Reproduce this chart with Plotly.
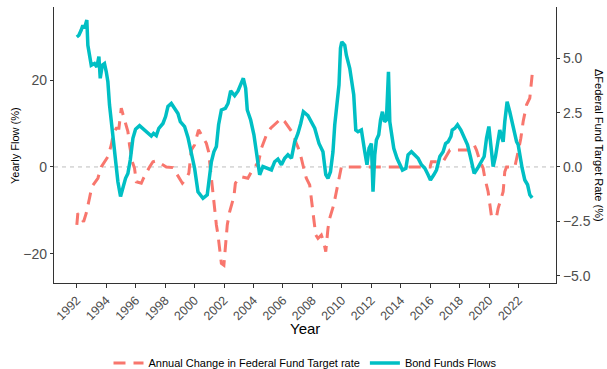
import plotly.graph_objects as go

# ---- data ----
bond_year = [1992.0, 1992.14, 1992.30, 1992.41, 1992.52, 1992.68, 1992.75, 1992.91, 1992.98, 1993.20,
             1993.36, 1993.50, 1993.59, 1993.73, 1993.88, 1994.00, 1994.11, 1994.22, 1994.41, 1994.56,
             1994.79, 1994.97, 1995.13, 1995.31, 1995.47, 1995.63, 1995.81, 1995.99, 1996.26, 1996.60,
             1996.89, 1997.06, 1997.21, 1997.40, 1997.57, 1997.85, 1998.03, 1998.19, 1998.42, 1998.64,
             1998.87, 1999.03, 1999.32, 1999.55, 1999.78, 2000.00, 2000.23, 2000.57, 2000.86, 2001.02,
             2001.14, 2001.31, 2001.48, 2001.63, 2001.82, 2002.09, 2002.27, 2002.45, 2002.72, 2002.95,
             2003.13, 2003.31, 2003.47, 2003.58, 2003.81, 2004.03, 2004.26, 2004.42, 2004.64, 2004.94,
             2005.22, 2005.44, 2005.66, 2005.90, 2006.12, 2006.34, 2006.58, 2006.80, 2007.02, 2007.21,
             2007.39, 2007.70, 2007.93, 2008.16, 2008.45, 2008.72, 2008.91, 2009.06, 2009.23, 2009.40,
             2009.52, 2009.68, 2009.81, 2009.91, 2010.00, 2010.20, 2010.31, 2010.54, 2010.65, 2010.81,
             2010.95, 2011.10, 2011.33, 2011.44, 2011.56, 2011.71, 2011.85, 2012.01, 2012.12, 2012.24,
             2012.35, 2012.51, 2012.63, 2012.76, 2012.90, 2013.03, 2013.17, 2013.26, 2013.37, 2013.53,
             2013.75, 2013.94, 2014.12, 2014.35, 2014.50, 2014.73, 2014.96, 2015.18, 2015.41, 2015.64,
             2015.86, 2016.02, 2016.25, 2016.43, 2016.66, 2016.88, 2017.05, 2017.22, 2017.41, 2017.50,
             2017.68, 2017.86, 2018.09, 2018.31, 2018.54, 2018.76, 2018.99, 2019.22, 2019.44, 2019.67,
             2019.83, 2019.99, 2020.12, 2020.28, 2020.44, 2020.62, 2020.73, 2020.85, 2020.96, 2021.07,
             2021.23, 2021.41, 2021.57, 2021.71, 2021.87, 2021.98, 2022.09, 2022.25, 2022.43, 2022.62,
             2022.77, 2022.93]
bond_flow = [29.9, 30.3, 31.5, 32.6, 31.9, 33.8, 28.0, 24.6, 23.4, 23.8,
             23.0, 25.4, 20.4, 23.4, 23.8, 21.9, 19.6, 14.3, 8.1, 2.8,
             -3.4, -6.8, -4.5, -2.6, -1.5, 1.6, 6.6, 8.7, 9.5, 8.5,
             7.7, 7.1, 7.7, 7.2, 8.9, 10.0, 11.6, 13.9, 14.6, 13.5,
             12.3, 10.4, 9.3, 6.8, 3.5, -0.3, -5.7, -7.2, -6.4, -1.1,
             1.2, 3.5, 4.7, 9.7, 13.1, 13.5, 14.6, 17.5, 16.4, 17.5,
             19.2, 20.4, 18.1, 13.1, 10.8, 7.4, 2.0, -1.8, 0.1, -0.3,
             -0.7, 1.2, 1.8, 0.5, 2.0, 2.8, 2.0, 5.8, 7.7, 10.0,
             12.7, 11.8, 10.4, 8.9, 5.4, 3.5, -1.8, -2.6, -1.1, 3.5,
             9.7, 15.0, 18.9, 27.3, 28.8, 28.0, 25.7, 22.7, 19.6, 16.6,
             8.5, 8.1, 8.5, 6.6, 3.5, 0.5, 4.3, 5.4, -5.7, 2.8,
             6.2, 7.4, 10.8, 12.7, 10.4, 10.8, 21.9, 10.4, 7.4, 4.3,
             2.0, 0.5, -0.7, -0.3, 2.8, 3.5, 2.8, 2.0, 0.5, -0.3,
             -1.8, -3.0, -1.8, -0.7, 2.4, 3.5, 5.4, 5.8, 7.0, 8.5,
             8.9, 9.7, 8.5, 7.0, 5.1, 2.0, -1.5, -0.3, 1.2, 2.4,
             6.6, 9.3, 5.1, 0.1, 2.4, 5.8, 8.5, 7.0, 5.8, 10.4,
             15.0, 12.7, 10.4, 8.1, 5.8, 5.1, 2.4, -0.3, -3.0, -4.1,
             -6.4, -7.1]

fed_year = [1992.0, 1992.07, 1992.46, 1992.64, 1992.86, 1993.02, 1993.43, 1993.66, 1994.11, 1994.34,
            1994.49, 1994.68, 1994.86, 1995.02, 1995.24, 1995.47, 1995.58, 1995.77, 1995.92, 1996.04,
            1996.38, 1996.53, 1996.94, 1997.17, 1997.40, 1998.08, 1998.53, 1998.76, 1999.17, 1999.44,
            1999.61, 1999.78, 2000.00, 2000.27, 2000.57, 2000.80, 2000.95, 2001.09, 2001.18, 2001.31,
            2001.48, 2001.59, 2001.70, 2001.82, 2001.99, 2002.09, 2002.22, 2002.38, 2002.67, 2002.77,
            2002.99, 2003.18, 2003.62, 2003.86, 2004.35, 2004.54, 2004.88, 2005.17, 2005.90, 2006.12,
            2006.68, 2006.91, 2007.14, 2007.36, 2007.59, 2007.82, 2007.98, 2008.09, 2008.23, 2008.38,
            2008.61, 2008.77, 2008.91, 2009.06, 2009.18, 2009.45, 2009.63, 2009.81, 2009.97, 2016.00,
            2016.09, 2016.88, 2017.10, 2017.34, 2018.81, 2018.99, 2019.15, 2019.36, 2019.60, 2019.72,
            2019.94, 2020.05, 2020.17, 2020.51, 2020.62, 2020.96, 2021.07, 2021.19, 2021.75, 2021.98,
            2022.16, 2022.32, 2022.55, 2022.77, 2022.84, 2022.93]
fed_change = [-2.67, -2.13, -2.52, -2.13, -1.44, -0.91, -0.52, 0.0, 0.47, 1.01,
              1.55, 1.78, 1.78, 2.70, 2.17, 1.63, 1.01, 0.24, -0.06, -0.68,
              -0.75, -0.52, 0.0, 0.24, 0.28, 0.0, -0.03, -0.29, -0.75, -0.52,
              -0.29, 0.78, 1.01, 1.71, 1.32, 1.09, 0.71, -0.22, -0.83, -1.75,
              -2.67, -3.13, -3.90, -4.44, -4.52, -3.59, -2.67, -2.06, -1.37, -0.75,
              -0.52, -0.45, -0.52, -0.22, 0.24, 0.86, 1.47, 1.78, 2.24, 2.09,
              1.55, 1.09, 0.71, 0.09, -0.52, -0.83, -1.60, -2.36, -3.13, -3.29,
              -3.13, -3.44, -3.90, -2.83, -2.36, -1.75, -1.14, -0.52, 0.0, 0.0,
              0.24, 0.24, 0.50, 0.78, 0.78, 1.01, 0.78, 0.32, -0.06, -0.52,
              -1.14, -1.75, -2.29, -2.29, -1.90, -1.14, -0.22, 0.0, 0.0, 0.71,
              1.32, 2.09, 2.86, 3.17, 3.63, 4.24]

year_ticks = list(range(1992, 2023, 2))
left_ticks = [-20, 0, 20]
right_ticks = [-5.0, -2.5, 0.0, 2.5, 5.0]

SALMON = "#F8766D"
CYAN = "#00BFC4"
AXIS = "#333333"
TICKC = "#4D4D4D"
FONT = "Liberation Sans, Arial, sans-serif"

left_range = [-26.7, 36.8]
right_range = [left_range[0] / 5, left_range[1] / 5]

fig = go.Figure()
fig.add_trace(go.Scatter(
    x=fed_year, y=fed_change, mode="lines", name="Annual Change in Federal Fund Target rate",
    line=dict(color=SALMON, width=3, dash="12px,8px"), yaxis="y"))
fig.add_trace(go.Scatter(
    x=bond_year, y=bond_flow, mode="lines", name="Bond Funds Flows",
    line=dict(color=CYAN, width=3.5), yaxis="y2"))

fig.add_shape(type="line", xref="paper", x0=0, x1=1, yref="y2", y0=0, y1=0,
              line=dict(color="#BEBEBE", width=1, dash="4px,4px"), layer="below")

fig.update_layout(
    width=607, height=369,
    margin=dict(l=54, r=51, t=7, b=86, autoexpand=False),
    paper_bgcolor="white", plot_bgcolor="white",
    font=dict(family=FONT, size=11, color="black"),
    showlegend=True,
    legend=dict(orientation="h", x=0.5, xanchor="center", y=-0.29, yanchor="middle",
                font=dict(size=11, color="black"), itemwidth=30, bgcolor="rgba(0,0,0,0)"),
    xaxis=dict(range=[1990.45, 2024.55], tickvals=year_ticks, ticktext=[str(y) for y in year_ticks],
               tickangle=-45, showgrid=False, zeroline=False, showline=True, linecolor=AXIS,
               linewidth=1.2, ticks="outside", ticklen=4, tickcolor=AXIS, automargin=False,
               tickfont=dict(size=12.5, color=TICKC)),
    yaxis=dict(range=right_range, side="right", tickvals=right_ticks,
               ticktext=["\u22125.0", "\u22122.5", "0.0", "2.5", "5.0"], automargin=False,
               showgrid=False, zeroline=False, showline=True, linecolor=AXIS, linewidth=1.2,
               ticks="outside", ticklen=3, tickcolor=AXIS, tickfont=dict(size=14, color=TICKC)),
    yaxis2=dict(range=left_range, side="left", overlaying="y", tickvals=left_ticks,
                ticktext=["\u221220", "0", "20"], automargin=False,
                showgrid=False, zeroline=False, showline=True, linecolor=AXIS, linewidth=1.2,
                ticks="outside", ticklen=3, tickcolor=AXIS, tickfont=dict(size=14, color=TICKC)),
    annotations=[
        dict(text="Year", xref="paper", yref="paper", x=0.5, y=-0.165, showarrow=False,
             xanchor="center", yanchor="middle", font=dict(size=15, color="black")),
        dict(text="Yearly Flow (%)", xref="paper", yref="paper", x=-0.0777, y=0.5, showarrow=False,
             textangle=-90, xanchor="center", yanchor="middle", font=dict(size=11, color="black")),
        dict(text="\u0394Federal Fund Target Rate (%)", xref="paper", yref="paper", x=1.0857, y=0.5,
             showarrow=False, textangle=90, xanchor="center", yanchor="middle",
             font=dict(size=11, color="black")),
    ],
)

fig.write_html("out.html", config={"displayModeBar": False},
               post_script="document.body.style.margin='0px';")
